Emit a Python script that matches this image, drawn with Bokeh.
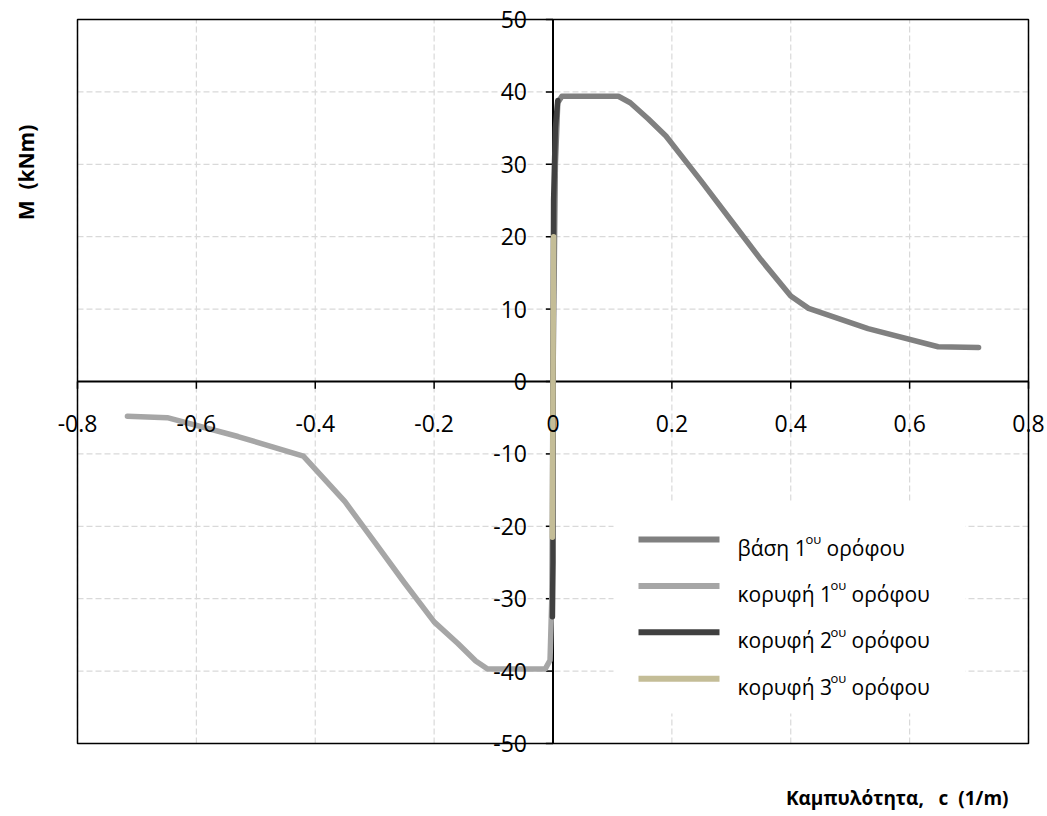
from math import pi
from bokeh.plotting import figure
from bokeh.models import LabelSet, Label, ColumnDataSource, BoxAnnotation
from bokeh.core.properties import value
from bokeh.embed import file_html
from bokeh.resources import INLINE

# ---------------- data ----------------
x_ticks = [-0.8, -0.6, -0.4, -0.2, 0.0, 0.2, 0.4, 0.6, 0.8]
x_tick_labels = ["-0.8", "-0.6", "-0.4", "-0.2", "0", "0.2", "0.4", "0.6", "0.8"]
y_ticks = [-50, -40, -30, -20, -10, 0, 10, 20, 30, 40, 50]
y_tick_labels = ["-50", "-40", "-30", "-20", "-10", "0", "10", "20", "30", "40", "50"]

series_names = ["βάση 1", "κορυφή 1", "κορυφή 2", "κορυφή 3"]
series_colors = ["#808080", "#a6a6a6", "#404040", "#c4bd97"]

base1_x = [0.0, 0.004, 0.008, 0.015, 0.11, 0.13, 0.16, 0.19, 0.25, 0.30, 0.35, 0.40, 0.43, 0.53, 0.648, 0.716]
base1_y = [0.0, 30.0, 38.5, 39.4, 39.4, 38.5, 36.3, 33.9, 27.6, 22.2, 16.8, 11.8, 10.1, 7.3, 4.8, 4.7]

top1_x = [0.0, -0.002, -0.005, -0.013, -0.11, -0.13, -0.16, -0.20, -0.25, -0.30, -0.35, -0.42, -0.53, -0.649, -0.716]
top1_y = [0.0, -30.0, -38.5, -39.7, -39.7, -38.6, -36.2, -33.2, -27.8, -22.2, -16.6, -10.3, -7.6, -5.0, -4.8]

top2_x = [-0.001, 0.0, 0.0, 0.001, 0.004, 0.008]
top2_y = [-32.5, -25.0, 0.0, 25.0, 35.0, 38.8]

top3_x = [-0.001, 0.0, 0.001]
top3_y = [-21.5, 0.0, 20.0]

NB = "\u00a0"
y_title = "M" + NB * 2 + "(kNm)"
x_title = "Καμπυλότητα," + NB * 3 + "c" + NB * 2 + "(1/m)"

# ---------------- geometry ----------------
W, H = 1047, 816
FL, FR, FT, FB = 77, 1028, 19, 743          # plot-area box in pixels
XMIN, XMAX, YMIN, YMAX = -0.8, 0.8, -50, 50  # plot-area box in data units

def px2x(px):
    return XMIN + (px - FL) * (XMAX - XMIN) / (FR - FL)

def px2y(py):
    return YMAX - (py - FT) * (YMAX - YMIN) / (FB - FT)

FONT = "Open Sans"

# the frame covers the full canvas so nothing outside the plot box gets clipped
p = figure(width=W, height=H, x_range=(px2x(0), px2x(W)), y_range=(px2y(H), px2y(0)),
           x_axis_location=None, y_axis_location=None, toolbar_location=None,
           output_backend="svg", min_border=0)
p.title.visible = False
p.background_fill_color = "white"
p.border_fill_color = "white"
p.outline_line_color = None
p.xgrid.visible = False
p.ygrid.visible = False

n_x, n_y = len(x_ticks), len(y_ticks)

# dashed gridlines inside the plot box
p.segment(x0=x_ticks, y0=[YMIN] * n_x, x1=x_ticks, y1=[YMAX] * n_x,
          line_color="#d9d9d9", line_width=1.2, line_dash="6 3")
p.segment(x0=[XMIN] * n_y, y0=y_ticks, x1=[XMAX] * n_y, y1=y_ticks,
          line_color="#d9d9d9", line_width=1.2, line_dash="6 3")

# axes crossing at the origin
p.segment(x0=[XMIN, 0], y0=[0, YMIN], x1=[XMAX, 0], y1=[0, YMAX],
          line_color="black", line_width=2)

# tick marks
p.segment(x0=x_ticks, y0=[0] * n_x, x1=x_ticks, y1=[-1.0] * n_x,
          line_color="black", line_width=1.5)
p.segment(x0=[0] * n_y, y0=y_ticks, x1=[-0.012] * n_y, y1=y_ticks,
          line_color="black", line_width=1.5)

# data lines
lw = 5.5
for xs, ys, c in [(base1_x, base1_y, series_colors[0]), (top1_x, top1_y, series_colors[1]),
                  (top2_x, top2_y, series_colors[2]), (top3_x, top3_y, series_colors[3])]:
    p.line(xs, ys, line_color=c, line_width=lw, line_cap="round", line_join="round")

# plot-area border
p.add_layout(BoxAnnotation(left=XMIN, right=XMAX, bottom=YMIN, top=YMAX,
                           fill_alpha=0, line_color="black", line_alpha=1.0, line_width=1.5))

# tick labels
xsrc = ColumnDataSource(dict(x=x_ticks, y=[0] * n_x, text=x_tick_labels))
p.add_layout(LabelSet(x="x", y="y", text="text", source=xsrc, y_offset=-42,
                      text_align="center", text_baseline="middle",
                      text_font=value(FONT), text_font_size="23px", text_color="black"))
ysrc = ColumnDataSource(dict(x=[0] * n_y, y=y_ticks, text=y_tick_labels))
p.add_layout(LabelSet(x="x", y="y", text="text", source=ysrc, x_offset=-26,
                      text_align="right", text_baseline="middle",
                      text_font=value(FONT), text_font_size="23px", text_color="black"))

# axis titles
p.add_layout(Label(x=px2x(25), y=px2y(172), text=y_title, angle=pi / 2,
                   text_align="center", text_baseline="middle", text_font=FONT,
                   text_font_size="21px", text_font_style="bold", text_color="black"))
p.add_layout(Label(x=px2x(1008), y=px2y(797), text=x_title,
                   text_align="right", text_baseline="middle", text_font=FONT,
                   text_font_size="19px", text_font_style="bold", text_color="black"))

# legend (manual, to allow superscripts)
p.add_layout(BoxAnnotation(left=px2x(613), right=px2x(965), top=px2y(502), bottom=px2y(713),
                           fill_color="white", fill_alpha=1.0, line_color=None))
row0, pitch = 539, 46.4
main_w = [66, 91, 91, 91]
for i, (name, col) in enumerate(zip(series_names, series_colors)):
    cy = row0 + i * pitch
    p.add_layout(BoxAnnotation(left=px2x(638), right=px2x(719), top=px2y(cy - 3), bottom=px2y(cy + 3),
                               fill_color=col, fill_alpha=1.0, line_color=None))
    p.add_layout(Label(x=px2x(737), y=px2y(cy + 8), text=name, text_align="left",
                       text_baseline="alphabetic", text_font=FONT, text_font_size="21px",
                       text_color="black"))
    sx = 737 + main_w[i] + 2
    p.add_layout(Label(x=px2x(sx), y=px2y(cy - 0.5), text="ου", text_align="left",
                       text_baseline="alphabetic", text_font=FONT, text_font_size="13px",
                       text_color="black"))
    p.add_layout(Label(x=px2x(sx + 21), y=px2y(cy + 8), text="ορόφου", text_align="left",
                       text_baseline="alphabetic", text_font=FONT, text_font_size="21px",
                       text_color="black"))

open("out.html", "w").write(file_html(p, INLINE))
